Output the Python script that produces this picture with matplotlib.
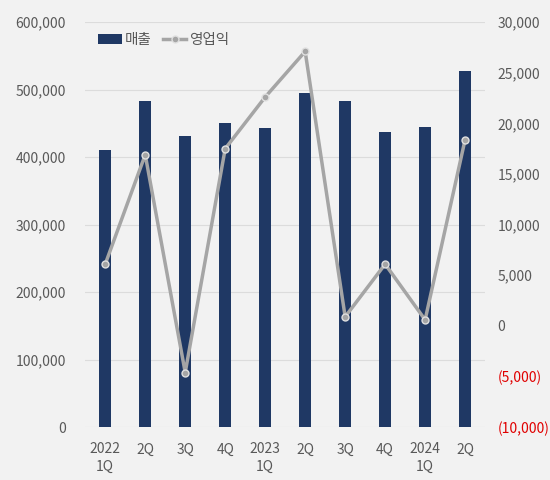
import matplotlib
matplotlib.use("Agg")
import matplotlib.pyplot as plt
from matplotlib.ticker import FuncFormatter

plt.rcParams['font.family'] = ['Noto Sans CJK KR', 'DejaVu Sans']

# data
quarters = ["2022\n1Q", "2Q", "3Q", "4Q", "2023\n1Q", "2Q", "3Q", "4Q", "2024\n1Q", "2Q"]
sales = [411000, 483000, 432000, 450000, 443000, 495000, 483000, 437000, 444000, 527000]
profit = [6100, 16900, -4600, 17500, 22600, 27100, 900, 6100, 600, 18400]

bg = "#f2f2f2"
navy = "#1f3864"
gray_line = "#a5a5a5"
txt = "#595959"

fig = plt.figure(figsize=(5.5, 4.8), dpi=100, facecolor=bg)
ax = fig.add_axes([0.155, 0.110, 0.727, 0.844])
ax.set_facecolor(bg)
ax2 = ax.twinx()

x = range(len(quarters))
bars = ax.bar(x, sales, width=0.3, color=navy, zorder=2, label="매출")
ax.set_ylim(0, 600000)
ax.set_yticks(range(0, 600001, 100000))
ax.yaxis.set_major_formatter(FuncFormatter(lambda v, p: f"{int(v):,}"))
ax.grid(axis="y", color="#dcdcdc", linewidth=0.8, zorder=0)
ax.set_axisbelow(True)
ax.set_xlim(-0.5, len(quarters) - 0.5)
ax.set_xticks(list(x))
ax.set_xticklabels(quarters, fontsize=10, color=txt, linespacing=1.3)

line, = ax2.plot(x, profit, color=gray_line, linewidth=2.5, marker="o", markersize=5,
                 markerfacecolor="#a5a5a5", markeredgecolor="#e0e0e0", markeredgewidth=1,
                 zorder=3, label="영업익")
ax2.set_ylim(-10000, 30000)
ax2.set_yticks(range(-10000, 30001, 5000))

def fmt_right(v, p):
    v = int(v)
    if v < 0:
        return f"({-v:,})"
    return f"{v:,}"

ax2.yaxis.set_major_formatter(FuncFormatter(fmt_right))

for a in (ax, ax2):
    for s in a.spines.values():
        s.set_visible(False)
    a.tick_params(length=0)

ax.tick_params(axis="y", labelsize=10, labelcolor=txt, pad=14)
ax.tick_params(axis="x", pad=11)
ax2.tick_params(axis="y", labelsize=10, labelcolor=txt, pad=9)
for lab, val in zip(ax2.get_yticklabels(), ax2.get_yticks()):
    if val < 0:
        lab.set_color("#e00000")

ax.legend([bars, line], ["매출", "영업익"], loc="upper left", bbox_to_anchor=(0.0, 1.005),
          frameon=False, ncol=2, fontsize=10.5, labelcolor=txt, handlelength=1.6,
          handletextpad=0.2, columnspacing=0.8)

fig.savefig("out.png", dpi=100, facecolor=bg)
